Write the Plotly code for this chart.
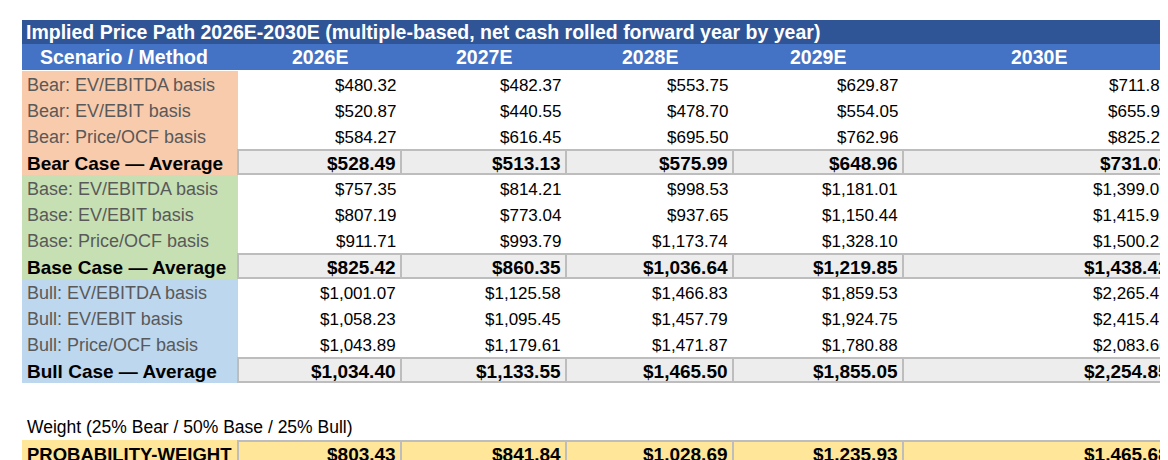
import plotly.graph_objects as go

title = "Implied Price Path 2026E-2030E (multiple-based, net cash rolled forward year by year)"
years = ["2026E", "2027E", "2028E", "2029E", "2030E"]
row_labels = [
    "Bear: EV/EBITDA basis", "Bear: EV/EBIT basis", "Bear: Price/OCF basis", "Bear Case \u2014 Average",
    "Base: EV/EBITDA basis", "Base: EV/EBIT basis", "Base: Price/OCF basis", "Base Case \u2014 Average",
    "Bull: EV/EBITDA basis", "Bull: EV/EBIT basis", "Bull: Price/OCF basis", "Bull Case \u2014 Average",
]
values = [
    [480.32, 482.37, 553.75, 629.87, 711.85],
    [520.87, 440.55, 478.70, 554.05, 655.90],
    [584.27, 616.45, 695.50, 762.96, 825.28],
    [528.49, 513.13, 575.99, 648.96, 731.01],
    [757.35, 814.21, 998.53, 1181.01, 1399.01],
    [807.19, 773.04, 937.65, 1150.44, 1415.98],
    [911.71, 993.79, 1173.74, 1328.10, 1500.28],
    [825.42, 860.35, 1036.64, 1219.85, 1438.42],
    [1001.07, 1125.58, 1466.83, 1859.53, 2265.47],
    [1058.23, 1095.45, 1457.79, 1924.75, 2415.47],
    [1043.89, 1179.61, 1471.87, 1780.88, 2083.60],
    [1034.40, 1133.55, 1465.50, 1855.05, 2254.85],
]
weight_label = "Weight (25% Bear / 50% Base / 25% Bull)"
prob_label = "PROBABILITY-WEIGHT"
prob_values = [803.43, 841.84, 1028.69, 1235.93, 1465.68]

group_colors = ["#F8CBAD", "#C6E0B4", "#BDD7EE"]
FONT = "Liberation Sans, Arial, sans-serif"

col_edges = [6, 222, 385, 550, 717, 887, 1158]
row_h = 26
top = 55

shapes = []
ann = []

def rect(x0, y0, x1, y1, fill, line=None, lw=0):
    shapes.append(dict(type="rect", x0=x0, x1=x1, y0=y0, y1=y1, xref="x", yref="y",
                       fillcolor=fill, line=dict(color=line or fill, width=lw), layer="below"))

def text(x, y, s, anchor="right", size=16, bold=False, color="#000000"):
    ann.append(dict(x=x, y=y, xref="x", yref="y", text=f"<b>{s}</b>" if bold else s,
                    showarrow=False, xanchor=anchor, yanchor="middle",
                    font=dict(family=FONT, size=size, color=color)))

def money(v):
    return f"${v:,.2f}"

# title and header
rect(6, 4, 1168, 28, "#2F5597")
text(8, 16, title, "left", 19.5, True, "white")
rect(6, 28, 1168, 54, "#4472C4")
text((col_edges[0] + col_edges[1]) / 2 - 6, 41, "Scenario / Method", "center", 19.5, True, "white")
for i, y in enumerate(years):
    text((col_edges[i + 1] + col_edges[i + 2]) / 2, 41, y, "center", 19.5, True, "white")

for r, (lab, vals) in enumerate(zip(row_labels, values)):
    y0 = top + r * row_h
    yc = y0 + row_h / 2
    is_avg = r % 4 == 3
    rect(col_edges[0], y0, col_edges[1], y0 + row_h, group_colors[r // 4])
    text(col_edges[0] + 3, yc + 1, lab, "left", 19 if is_avg else 18, is_avg,
         "#000000" if is_avg else "#595959")
    for c, v in enumerate(vals):
        if is_avg:
            rect(col_edges[c + 1], y0 + 1, col_edges[c + 2], y0 + row_h - 1, "#EDEDED", "#BDBDBD", 2)
        text(col_edges[c + 2] - 3, yc + 1, money(v), "right", 19 if is_avg else 17, is_avg)

text(col_edges[0] + 3, 411, weight_label, "left", 17.5)
y0 = 424
rect(col_edges[0], y0, col_edges[1], y0 + row_h, "#FFE699")
text(col_edges[0] + 3, y0 + 14, prob_label, "left", 18.5, True)
for c, v in enumerate(prob_values):
    rect(col_edges[c + 1], y0 + 1, col_edges[c + 2], y0 + row_h - 1, "#FFE699", "#BDBDBD", 2)
    text(col_edges[c + 2] - 3, y0 + 14, money(v), "right", 19, True)

fig = go.Figure(go.Scatter(x=[0], y=[0], mode="markers", marker=dict(opacity=0), hoverinfo="skip"))
fig.update_layout(width=1168, height=460, margin=dict(l=0, r=0, t=0, b=0),
                  plot_bgcolor="white", paper_bgcolor="white", showlegend=False,
                  shapes=shapes, annotations=ann)
fig.update_xaxes(range=[-8, 1160], visible=False)
fig.update_yaxes(range=[452, -8], visible=False)
fig.write_html("out.html")
